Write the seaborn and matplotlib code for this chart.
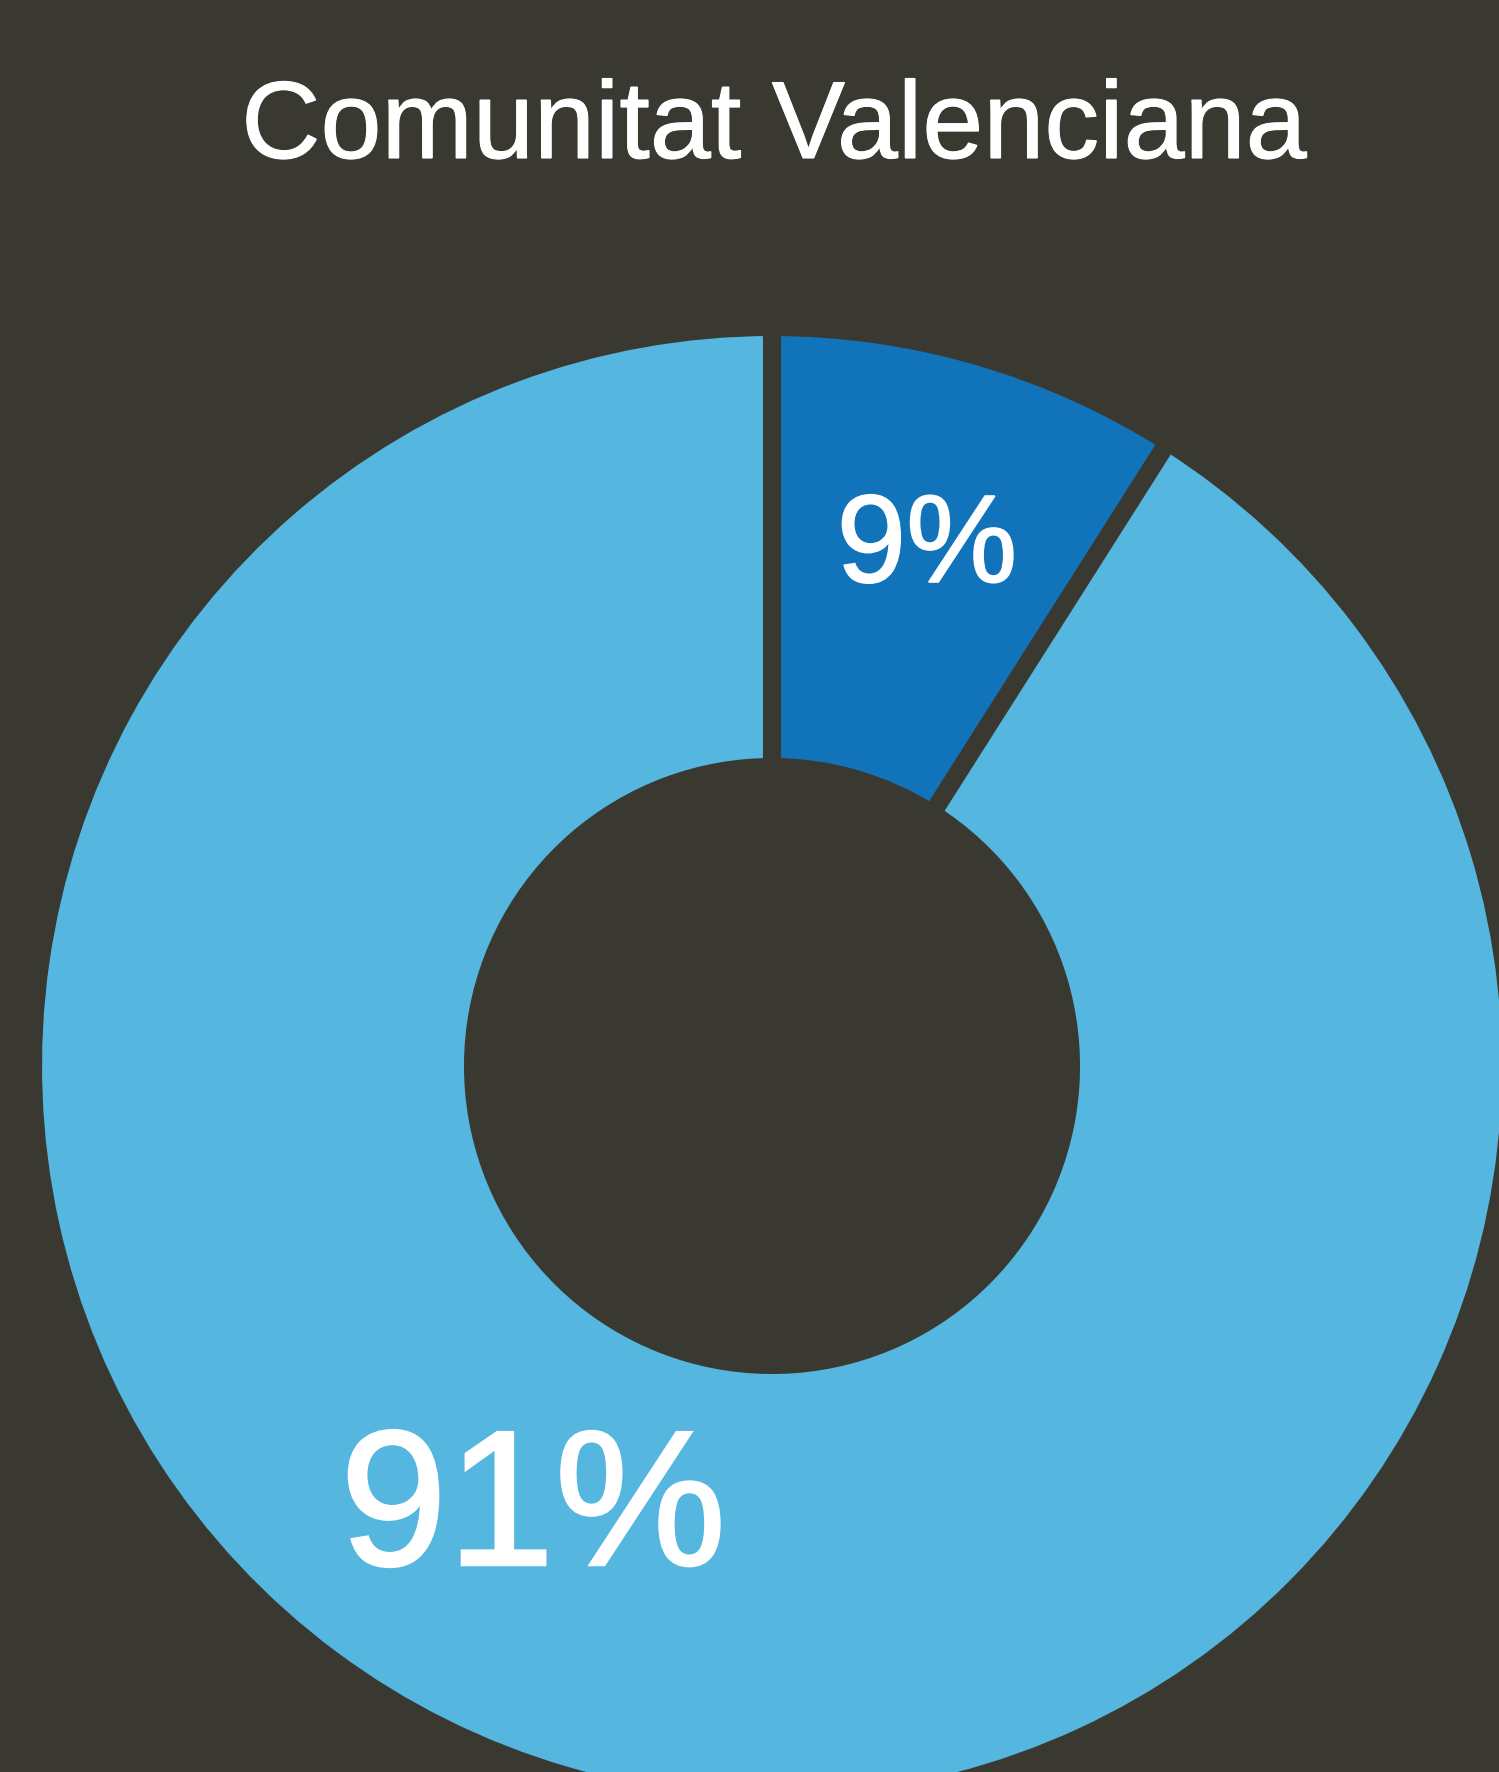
import matplotlib
matplotlib.use("Agg")
import matplotlib.pyplot as plt
import matplotlib.patheffects as pe
import seaborn as sns

# data
labels = ["9%", "91%"]
shares = [9, 91]
colors = ["#1174bb", "#55b6e0"]
title = "Comunitat Valenciana"

bg = "#3a3931"

sns.set_style("white")
plt.rcParams['font.family'] = ['Liberation Sans', 'DejaVu Sans']

W, H = 1499, 1772
fig = plt.figure(figsize=(W / 100, H / 100), dpi=100, facecolor=bg)
ax = fig.add_axes([0, 0, 1, 1])
ax.set_facecolor(bg)

# donut in pixel coordinates (y measured from the bottom)
cx, cy = 772, H - 1066
r_out = 739
ring = 440

ax.pie(
    shares,
    colors=colors,
    startangle=90,
    counterclock=False,
    center=(cx, cy),
    radius=r_out,
    wedgeprops=dict(width=ring, edgecolor=bg, linewidth=13),
)

ax.set_xlim(0, W)
ax.set_ylim(0, H)
ax.set_aspect("equal")
ax.axis("off")

# a touch heavier than regular weight
def heavier(w):
    return [pe.withStroke(linewidth=w, foreground="white", joinstyle="miter")]

ax.text(927, H - 582, labels[0], color="white", fontsize=90,
        ha="center", va="baseline", path_effects=heavier(1.2))
ax.text(533, H - 1565, labels[1], color="white", fontsize=139,
        ha="center", va="baseline", path_effects=heavier(1.8))

fig.text(774 / W, 1 - 158 / H, title, color="white", fontsize=79,
         ha="center", va="baseline", path_effects=heavier(0.8))

fig.savefig("out.png", dpi=100, facecolor=bg)
